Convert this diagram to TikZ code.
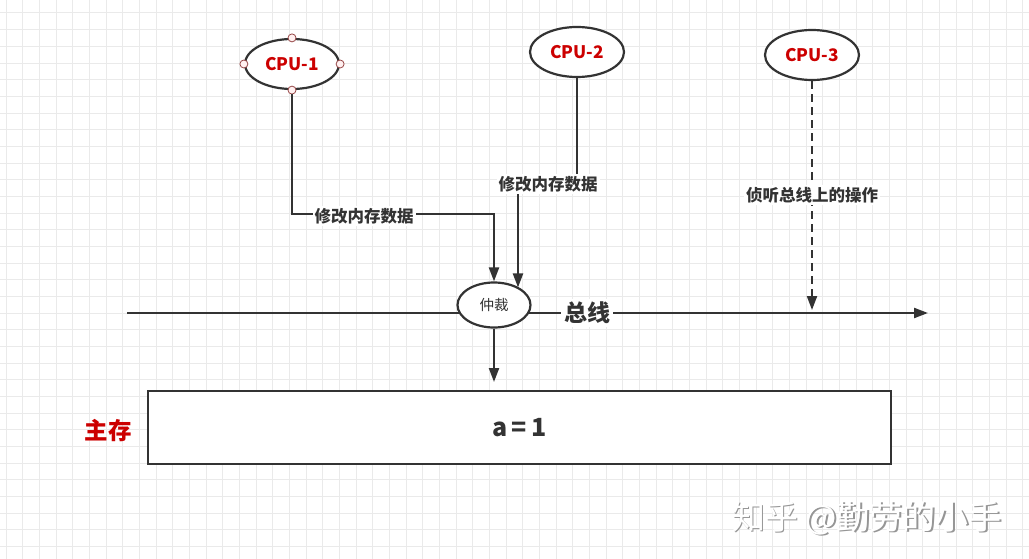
\documentclass[tikz,border=0pt]{standalone}
\usepackage{fontspec}
\setmainfont{Noto Sans CJK SC}
\usetikzlibrary{shapes.geometric,arrows.meta}
\definecolor{ink}{RGB}{51,51,51}
\definecolor{cpured}{RGB}{204,0,0}
\definecolor{gridc}{RGB}{234,234,234}
\definecolor{handlefill}{RGB}{255,240,240}
\definecolor{handledraw}{RGB}{150,70,70}
\definecolor{shadowc}{RGB}{150,150,150}
\tikzset{
  cpu/.style={ellipse, draw=ink, line width=2.2pt, fill=white, minimum width=94pt, minimum height=50pt, inner sep=0pt, text=cpured, font=\bfseries\fontsize{17.3}{20}\selectfont},
  conn/.style={draw=ink, line width=2.2pt, -{Triangle[length=14pt,width=10pt]}},
  lbl/.style={fill=white, text=ink, inner sep=2pt, font=\bfseries\fontsize{16.5}{19}\selectfont},
  handle/.style={circle, draw=handledraw, fill=handlefill, line width=0.8pt, minimum size=8pt, inner sep=0pt},
}
\begin{document}
\begin{tikzpicture}[x=1pt,y=-1pt]
\useasboundingbox (0,0) rectangle (1029,559);
\fill[white] (0,0) rectangle (1029,559);
% grid
\foreach \i in {0,...,61} \draw[gridc, line width=1pt] ({6+16.67*\i},0) -- ({6+16.67*\i},559);
\foreach \j in {0,...,32} \draw[gridc, line width=1pt] (0,{13+16.67*\j}) -- (1029,{13+16.67*\j});

% bus
\coordinate (busL) at (127,313);
\coordinate (busR) at (928,313);
\draw[conn] (busL) -- (busR);

% nodes
\node[cpu] (cpu1) at (292,64) {CPU-1};
\node[cpu] (cpu2) at (577,52) {CPU-2};
\node[cpu] (cpu3) at (812,55) {CPU-3};
\node[ellipse, draw=ink, line width=2.2pt, fill=white, minimum width=73pt, minimum height=45pt, inner sep=0pt, text=ink, font=\fontsize{14.5}{17}\selectfont] (arb) at (494,305) {仲裁};
\node[fill=white, text=ink, inner sep=3pt, font=\bfseries\fontsize{23}{26}\selectfont] (buslbl) at (587,313) {总线};
\node[draw=ink, line width=2.2pt, fill=white, minimum width=743pt, minimum height=73pt, inner sep=0pt, text=ink, font=\bfseries\fontsize{25}{28}\selectfont] (mem) at (519.5,427.5) {a\,=\,1};
\node[text=cpured, font=\bfseries\fontsize{23.5}{26}\selectfont] (memlbl) at (108,431) {主存};

% handles on CPU-1
\node[handle] (h1) at (cpu1.north) {};
\node[handle] (h2) at (cpu1.south) {};
\node[handle] (h3) at (cpu1.west) {};
\node[handle] (h4) at (cpu1.east) {};

% CPU-1 connector
\coordinate (k1) at (494,214);
\draw[conn] (h2.south) |- (k1) -- (arb.north);
\node[lbl] (l1) at (364,216) {修改内存数据};

% CPU-2 connector
\coordinate (m2a) at (577,184);
\coordinate (m2b) at (518,184);
\draw[conn] (cpu2.south) -- (m2a) -- (m2b) -- (m2b |- arb.35);
\node[lbl] (l2) at (548,184) {修改内存数据};

% CPU-3 connector
\coordinate (m3) at (812,310);
\draw[conn, dash pattern=on 8pt off 5pt] (cpu3.south) -- (m3);
\node[lbl] (l3) at (812,195) {侦听总线上的操作};

% arbiter to memory
\coordinate (m0) at (494,382);
\draw[conn] (arb.south) -- (m0);

% watermark
\node[text=shadowc, font=\fontsize{33}{36}\selectfont] (wms) at (868.5,519.5) {知乎 @勤劳的小手};
\node[text=white, font=\fontsize{33}{36}\selectfont] (wm) at (867,518) {知乎 @勤劳的小手};
\end{tikzpicture}
\end{document}
